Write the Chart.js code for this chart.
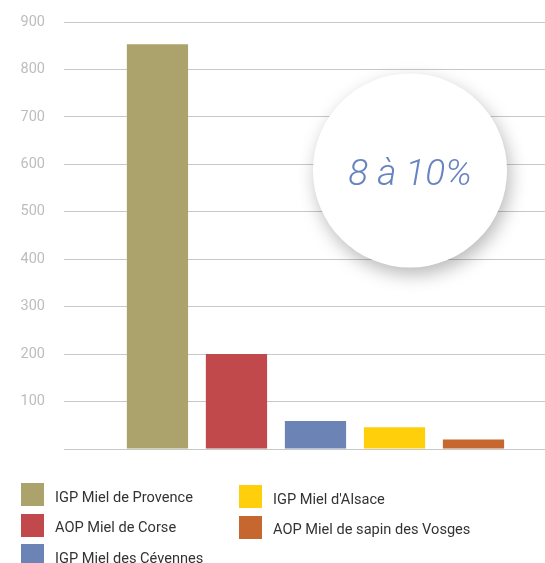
<!DOCTYPE html>
<html>
<head>
<meta charset="utf-8">
<script src="https://cdn.jsdelivr.net/npm/chart.js@4/dist/chart.umd.min.js"></script>
<style>
  html, body { margin: 0; padding: 0; background: #fff; }
  #wrap { position: relative; width: 545px; height: 563px; overflow: hidden; }
  #chartBox { position: absolute; left: 0; top: 0; width: 545px; height: 470px; }
  #legend { position: absolute; left: 0; top: 0; width: 545px; height: 563px; pointer-events: none;
            font-family: Roboto, "Open Sans", sans-serif; font-size: 14.6px; color: #333333; }
  .item { position: absolute; display: flex; align-items: center; height: 23px; white-space: nowrap; }
  .box { width: 23px; height: 23px; margin-right: 11px; flex: none; }
  .lbl { padding-top: 4px; }
</style>
</head>
<body>
<div id="wrap">
  <div id="chartBox"><canvas id="c"></canvas></div>
  <div id="legend"></div>
</div>
<script>
// ---- data ----
const categories = ["IGP Miel de Provence", "AOP Miel de Corse", "IGP Miel des Cévennes", "IGP Miel d'Alsace", "AOP Miel de sapin des Vosges"];
const values = [853, 200, 59, 46, 20];
const colors = ["#aba36b", "#c1494b", "#6b84b5", "#fecf0a", "#c5672f"];
const yTicks = [100, 200, 300, 400, 500, 600, 700, 800, 900];
const annotationText = "8 à 10%";

// ---- legend (two columns, column-major) ----
const legend = document.getElementById('legend');
const colLeft = [21, 239];
const rowTop = [483, 513.5, 544];
const perCol = 3;
categories.forEach((name, i) => {
  const col = Math.floor(i / perCol), row = i % perCol;
  const it = document.createElement('div');
  it.className = 'item';
  it.style.left = colLeft[col] + 'px';
  it.style.top = (rowTop[row] + (col === 1 ? 2 : 0)) + 'px';
  const b = document.createElement('div');
  b.className = 'box';
  b.style.background = colors[i];
  const t = document.createElement('span');
  t.className = 'lbl';
  t.textContent = name;
  it.appendChild(b); it.appendChild(t);
  legend.appendChild(it);
});

// ---- annotation bubble plugin ----
const bubble = {
  id: 'bubble',
  afterDatasetsDraw(chart) {
    const { ctx, scales: { y } } = chart;
    const cx = 410, cy = y.getPixelForValue(587), r = 97;
    ctx.save();
    ctx.shadowColor = 'rgba(0,0,0,0.28)';
    ctx.shadowBlur = 18;
    ctx.shadowOffsetX = 3;
    ctx.shadowOffsetY = 7;
    ctx.beginPath();
    ctx.arc(cx, cy, r, 0, Math.PI * 2);
    ctx.fillStyle = '#ffffff';
    ctx.fill();
    ctx.restore();
    ctx.save();
    ctx.font = 'italic 300 37px Roboto, "DejaVu Sans", sans-serif';
    ctx.fillStyle = '#6884c0';
    ctx.textAlign = 'center';
    ctx.textBaseline = 'alphabetic';
    ctx.fillText(annotationText, cx, cy + 14);
    ctx.restore();
  }
};

new Chart(document.getElementById('c'), {
  type: 'bar',
  data: {
    datasets: [{
      data: values.map((v, i) => ({ x: i + 1, y: v })),
      backgroundColor: colors,
      borderWidth: 0,
      barPercentage: 0.775,
      categoryPercentage: 1
    }]
  },
  options: {
    responsive: true,
    maintainAspectRatio: false,
    animation: false,
    layout: { padding: { top: 22, right: 0, bottom: 21, left: 0 } },
    plugins: { legend: { display: false }, tooltip: { enabled: false } },
    scales: {
      x: {
        type: 'linear',
        display: false,
        offset: false,
        min: -0.183,
        max: 5.905,
        afterBuildTicks(s) { s.ticks = categories.map((c, i) => ({ value: i + 1 })); }
      },
      y: {
        min: 0,
        max: 900,
        afterFit(s) { s.width = 64; s.paddingTop = 0; s.paddingBottom = 0; },
        afterBuildTicks(s) { s.ticks = [0].concat(yTicks).map(v => ({ value: v })); },
        border: { display: false },
        grid: { color: '#c8c8c8', lineWidth: 1, drawTicks: false },
        ticks: {
          padding: 19,
          color: '#bdbdbd',
          font: { family: 'Roboto', size: 14.5 },
          callback: (v) => (v === 0 ? '' : String(v))
        }
      }
    }
  },
  plugins: [bubble]
});
</script>
</body>
</html>
